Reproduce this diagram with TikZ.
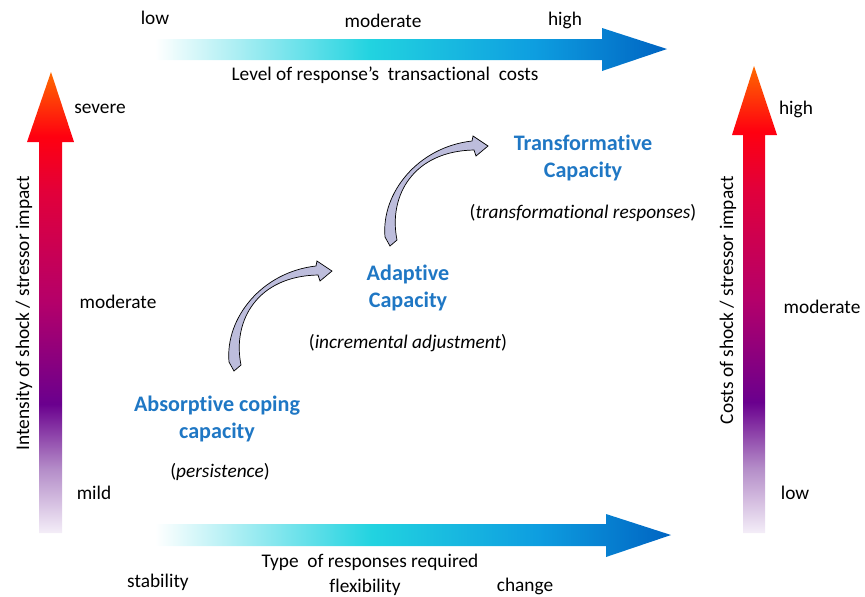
\documentclass[tikz,border=0pt]{standalone}
\usepackage{fontspec}
\setmainfont{Carlito}[RawFeature={-liga;-clig;-dlig}]
\usepackage{tikz}
\usetikzlibrary{positioning}
\definecolor{capblue}{HTML}{1F77C4}
\definecolor{respcyan}{HTML}{22D3E0}
\definecolor{respmid}{HTML}{0E9EE0}
\definecolor{respblue}{HTML}{0064C2}
\definecolor{shockpale}{HTML}{F4EEF8}
\definecolor{shocklilac}{HTML}{B48CC8}
\definecolor{shockpurple}{HTML}{6A008E}
\definecolor{shockmagenta}{HTML}{B4006A}
\definecolor{shockcrimson}{HTML}{E2003A}
\definecolor{shockred}{HTML}{FF0010}
\definecolor{shockorange}{HTML}{FF6A00}
\definecolor{bendlav}{HTML}{BDBDDC}
\pgfdeclarehorizontalshading{respshade}{100bp}{color(0bp)=(white); color(25bp)=(white);
  color(46bp)=(respcyan); color(62bp)=(respmid); color(75bp)=(respblue); color(100bp)=(respblue)}
\pgfdeclareverticalshading{shockshade}{100bp}{color(0bp)=(white); color(25bp)=(shockpale);
  color(32bp)=(shocklilac); color(39bp)=(shockpurple); color(50bp)=(shockmagenta);
  color(62bp)=(shockcrimson); color(68bp)=(shockred); color(75bp)=(shockorange); color(100bp)=(shockorange)}
\tikzset{
  lbl/.style={font=\fontsize{11}{13}\selectfont},
  captitle/.style={text=capblue, align=center, font=\bfseries\fontsize{12.6}{15.3}\selectfont},
  bendarrow/.pic={
    \filldraw[fill=bendlav, draw=black, line width=0.4pt]
      (-6,-5) .. controls (-10,-49) and (27,-95) .. (81,-101)
      -- (82,-106) -- (97,-96) -- (85,-86) -- (83,-92)
      .. controls (23,-91) and (-3,-47) .. (6,-2) -- (-1,4) -- cycle;
  }
}
\begin{document}
\begin{tikzpicture}[x=0.02cm, y=-0.02cm]
  \useasboundingbox (0,0) rectangle (865,596);
  % gradient arrows
  \shade[shading=respshade] (155,39) -- (602,39) -- (602,28) -- (667,49) -- (602,71) -- (602,60) -- (155,60) -- cycle;
  \shade[shading=respshade] (155,524) -- (606,524) -- (606,514) -- (671,535) -- (606,557) -- (606,546) -- (155,546) -- cycle;
  \shade[shading=shockshade] (39,533) -- (39,142) -- (27,142) -- (51,72) -- (74,142) -- (62,142) -- (62,533) -- cycle;
  \shade[shading=shockshade] (743,533) -- (743,135) -- (732,135) -- (754,66) -- (777,135) -- (765,135) -- (765,533) -- cycle;
  % top scale
  \node[lbl] (toplow) at (155,18) {low};
  \node[lbl] (topmod) at (383,21) {moderate};
  \node[lbl] (tophigh) at (565,20) {high};
  \node[lbl] (toptitle) at (385,75) {Level of response's\ \ transactional\ \ costs};
  % bottom scale
  \node[lbl] (bottitle) at (370,562) {Type\ \ of responses\ required};
  \node[lbl] (botstab) at (158,582) {stability};
  \node[lbl] (botflex) at (365,587) {flexibility};
  \node[lbl] (botchange) at (525,586) {change};
  % left scale
  \node[lbl, rotate=90] (lefttitle) at (24,313) {Intensity of shock / stressor impact};
  \node[lbl] (leftsev) at (100,109) {severe};
  \node[lbl] (leftmod) at (118,302) {moderate};
  \node[lbl] (leftmild) at (94,493) {mild};
  % right scale
  \node[lbl, rotate=90] (righttitle) at (728,300) {Costs of shock / stressor impact};
  \node[lbl] (righthigh) at (796,109) {high};
  \node[lbl] (rightmod) at (822,307) {moderate};
  \node[lbl] (rightlow) at (795,493) {low};
  % capacities
  \node[captitle] (transcap) at (583,158) {Transformative\\Capacity};
  \node[lbl] (transresp) at (583,213) {(\textit{transformational responses})};
  \node[captitle] (adaptcap) at (408,288) {Adaptive\\Capacity};
  \node[lbl] (adaptresp) at (408,343) {(\textit{incremental adjustment})};
  \node[captitle] (absorbcap) at (217,419) {Absorptive coping\\capacity};
  \node[lbl] (absorbresp) at (220,472) {(\textit{persistence})};
  % curved arrows
  \pic at (235,367) {bendarrow};
  \pic at (391,242) {bendarrow};
\end{tikzpicture}
\end{document}
